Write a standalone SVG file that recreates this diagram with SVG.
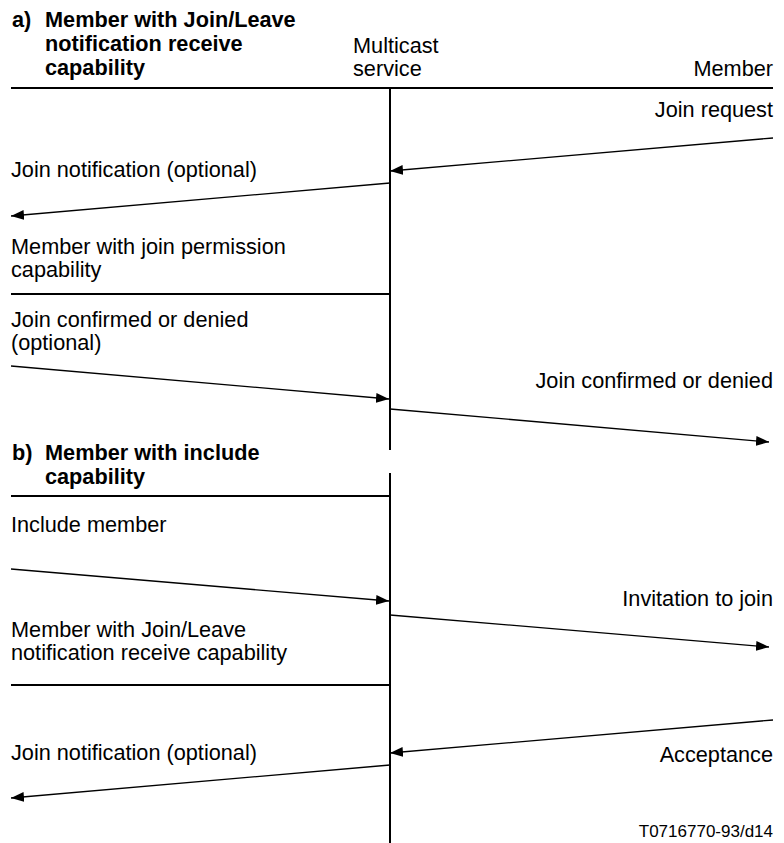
<svg xmlns="http://www.w3.org/2000/svg" width="784" height="843" viewBox="0 0 784 843">
<style>
text{font-family:"Liberation Sans",Arial,sans-serif;font-size:21.7px;fill:#000}
.b{font-weight:bold}
.r{text-anchor:end}
.rule{stroke:#000;stroke-width:2;fill:none}
.msg{stroke:#000;stroke-width:1.3;fill:none;marker-end:url(#ah)}
.small{font-size:17px}
</style>
<defs>
<marker id="ah" markerUnits="userSpaceOnUse" markerWidth="14" markerHeight="11" refX="13" refY="5.5" orient="auto">
<path d="M0,0.5 L13,5.5 L0,10.5 z" fill="#000"/>
</marker>
</defs>
<rect width="784" height="843" fill="#fff"/>

<g id="header">
<text class="b" x="12" y="27">a)</text>
<text class="b" x="45" y="27">Member with Join/Leave</text>
<text class="b" x="45" y="51">notification receive</text>
<text class="b" x="45" y="75">capability</text>
<text x="353" y="53">Multicast</text>
<text x="353" y="76">service</text>
<text class="r" x="773" y="76">Member</text>
</g>

<g id="lifelines">
<line class="rule" x1="11" y1="88" x2="773" y2="88"/>
<line class="rule" x1="390" y1="88" x2="390" y2="450"/>
<line class="rule" x1="390" y1="473" x2="390" y2="843"/>
<line class="rule" x1="11" y1="294" x2="390" y2="294"/>
<line class="rule" x1="11" y1="496" x2="390" y2="496"/>
<line class="rule" x1="11" y1="685" x2="390" y2="685"/>
</g>

<g id="section-a">
<text class="r" x="773" y="117">Join request</text>
<text x="11" y="177">Join notification (optional)</text>
<text x="11" y="254">Member with join permission</text>
<text x="11" y="277">capability</text>
<text x="11" y="327">Join confirmed or denied</text>
<text x="11" y="350">(optional)</text>
<text class="r" x="773" y="388">Join confirmed or denied</text>
</g>

<g id="section-b">
<text class="b" x="12" y="460">b)</text>
<text class="b" x="45" y="460">Member with include</text>
<text class="b" x="45" y="484">capability</text>
<text x="11" y="532">Include member</text>
<text class="r" x="773" y="606">Invitation to join</text>
<text x="11" y="637">Member with Join/Leave</text>
<text x="11" y="660">notification receive capability</text>
<text x="11" y="760">Join notification (optional)</text>
<text class="r" x="773" y="762">Acceptance</text>
<text class="r small" x="773" y="837">T0716770-93/d14</text>
</g>

<g id="connectors">
<line class="msg" x1="773" y1="138" x2="390" y2="171"/>
<line class="msg" x1="390" y1="183" x2="11" y2="216"/>
<line class="msg" x1="11" y1="366" x2="389" y2="399"/>
<line class="msg" x1="390" y1="409" x2="769" y2="442"/>
<line class="msg" x1="11" y1="569" x2="389" y2="601"/>
<line class="msg" x1="390" y1="615" x2="769" y2="647"/>
<line class="msg" x1="773" y1="720" x2="390" y2="753"/>
<line class="msg" x1="390" y1="765" x2="11" y2="798"/>
</g>
</svg>
